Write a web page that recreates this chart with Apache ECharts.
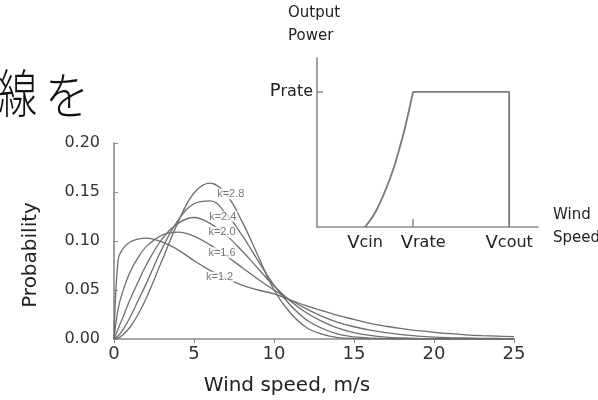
<!DOCTYPE html>
<html>
<head>
<meta charset="utf-8">
<script src="https://cdn.jsdelivr.net/npm/echarts@6/dist/echarts.min.js"></script>
<style>
html,body{margin:0;padding:0;background:#fff;}
#c{width:598px;height:400px;}
</style>
</head>
<body>
<div id="c"></div>
<script>
// ---- main chart data (Weibull-like probability curves) ----
const speeds = [0,0.25,0.5,1,1.5,2,3,4,5,6,7,8,9,10,11,12,13,14,15,16,17,18,19,20,21,22,23,24,25];
const probK12 = [0,0.080,0.091,0.099,0.102,0.103,0.099,0.091,0.080,0.070,0.062,0.055,0.050,0.046,0.040,0.034,0.029,0.024,0.020,0.016,0.013,0.0105,0.0085,0.0068,0.0054,0.0043,0.0035,0.0029,0.0024];
const probK16 = [0,0.030,0.046,0.068,0.083,0.094,0.106,0.109,0.105,0.096,0.085,0.073,0.061,0.050,0.040,0.031,0.023,0.017,0.0125,0.009,0.0065,0.0045,0.003,0.002,0.0014,0.001,0.0007,0.0005,0.0004];
const probK20 = [0,0.010,0.020,0.040,0.058,0.075,0.102,0.118,0.124,0.118,0.106,0.090,0.072,0.054,0.039,0.027,0.018,0.011,0.0065,0.0037,0.002,0.0011,0.0006,0.0003,0.0002,0.0001,0,0,0];
const probK24 = [0,0.003,0.008,0.022,0.039,0.056,0.092,0.121,0.138,0.141,0.128,0.106,0.080,0.055,0.035,0.020,0.011,0.005,0.0022,0.0009,0.0003,0.0001,0,0,0,0,0,0,0];
const probK28 = [0,0.001,0.0035,0.012,0.025,0.041,0.080,0.119,0.149,0.159,0.148,0.120,0.085,0.050,0.027,0.012,0.005,0.0015,0.0004,0.0001,0,0,0,0,0,0,0,0,0];
const shapeLabels = ['k=2.8','k=2.4','k=2.0','k=1.6','k=1.2'];
const labelSpeed = [7.3,6.8,6.75,6.75,6.6];
const labelProb = [0.148,0.125,0.109,0.088,0.063];
const yTicks = [0,0.05,0.10,0.15,0.20];
const xTicks = [0,5,10,15,20,25];

// ---- inset power curve data ----
const riseSpeed = [5,6,7,8,9,9.5,10];
const risePower = [0,0.10,0.25,0.44,0.69,0.84,1];
const flatSpeed = [10,20,20];
const flatPower = [1,1,0];
const vTickValues = [5,10,20];
const vTickNames = ['cin','rate','cout'];
const pTickValue = 1;

const zip = (a,b) => a.map((x,i)=>[x,b[i]]);
const curveColor = '#6e6e6e';
const axisColor = '#8a8a8a';
const font = 'DejaVu Sans';

const curves = [probK12, probK16, probK20, probK24, probK28].map(d => ({
  type:'line', xAxisIndex:0, yAxisIndex:0, data: zip(speeds,d),
  smooth:0.4, showSymbol:false, symbol:'none', z:2,
  lineStyle:{color:curveColor, width:1.3}
}));

const chart = echarts.init(document.getElementById('c'), null, {renderer:'canvas'});
chart.setOption({
  animation:false,
  backgroundColor:'#fff',
  grid:[
    {left:114, right:84, top:143, bottom:61},
    {left:317, right:60, top:58, bottom:173}
  ],
  xAxis:[
    {type:'value', gridIndex:0, min:xTicks[0], max:xTicks[xTicks.length-1], interval:5,
     axisLine:{lineStyle:{color:axisColor, width:1.6}},
     axisTick:{show:true, inside:false, length:4, lineStyle:{color:axisColor}},
     axisLabel:{fontFamily:font, fontSize:18, color:'#333', margin:6},
     splitLine:{show:false}},
    {type:'value', gridIndex:1, min:0, max:23,
     axisLine:{lineStyle:{color:axisColor, width:1.6}},
     axisTick:{show:true, inside:true, length:8, customValues:[vTickValues[1]], lineStyle:{color:axisColor, width:1.5}},
     axisLabel:{customValues:vTickValues, margin:7, color:'#222',
       formatter:function(v){
         const i = vTickValues.indexOf(v);
         if(i<0) return '';
         return (i===1?'{p|}':'') + '{v|V}{s|' + vTickNames[i] + '}';
       },
       rich:{v:{fontFamily:font,fontSize:18,color:'#222'}, s:{fontFamily:font,fontSize:16,color:'#222'}, p:{width:20}}},
     splitLine:{show:false}}
  ],
  yAxis:[
    {type:'value', gridIndex:0, min:yTicks[0], max:yTicks[yTicks.length-1], interval:0.05,
     axisLine:{show:true, lineStyle:{color:axisColor, width:1.6}},
     axisTick:{show:true, inside:true, length:4, lineStyle:{color:axisColor}},
     axisLabel:{fontFamily:font, fontSize:16, color:'#333', margin:14, formatter:v=>v.toFixed(2)},
     splitLine:{show:false}},
    {type:'value', gridIndex:1, min:0, max:1.25,
     axisLine:{show:true, lineStyle:{color:axisColor, width:1.6}},
     axisTick:{show:true, inside:true, length:6, customValues:[pTickValue], lineStyle:{color:axisColor, width:1.5}},
     axisLabel:{customValues:[pTickValue], margin:4, color:'#222',
       formatter:()=> '{v|P}{s|rate}',
       rich:{v:{fontFamily:font,fontSize:18,color:'#222'}, s:{fontFamily:font,fontSize:16,color:'#222'}}},
     splitLine:{show:false}}
  ],
  series: curves.concat([
    {type:'scatter', xAxisIndex:0, yAxisIndex:0, z:5, symbol:'rect', symbolSize:[29,11],
     itemStyle:{color:'#fff'},
     data: labelSpeed.map((s,i)=>({value:[s,labelProb[i]], name:shapeLabels[i]})),
     label:{show:true, position:'inside', formatter:p=>p.name, fontFamily:'Liberation Sans', fontSize:11, color:'#555'}},
    {type:'line', xAxisIndex:1, yAxisIndex:1, data:zip(riseSpeed,risePower), smooth:0.3,
     showSymbol:false, symbol:'none', lineStyle:{color:'#7a7a7a', width:1.8}},
    {type:'line', xAxisIndex:1, yAxisIndex:1, data:zip(flatSpeed,flatPower), smooth:false,
     showSymbol:false, symbol:'none', lineStyle:{color:'#7a7a7a', width:1.8}}
  ]),
  graphic:[
    {type:'text', x:-2, y:93, scaleX:0.75, style:{text:'線', font:'300 52px "Noto Sans CJK JP"', fill:'#111', textVerticalAlign:'middle'}},
    {type:'text', x:45, y:95, scaleX:0.88, style:{text:'を', font:'300 50px "Noto Sans CJK JP"', fill:'#111', textVerticalAlign:'middle'}},
    {type:'text', x:31, y:255, rotation:Math.PI/2, style:{text:'Probability', font:'20px "DejaVu Sans"', fill:'#222', textAlign:'center', textVerticalAlign:'middle'}},
    {type:'text', x:287, y:386, style:{text:'Wind speed, m/s', font:'20px "DejaVu Sans"', fill:'#222', textAlign:'center', textVerticalAlign:'middle'}},
    {type:'text', x:288, y:13, style:{text:'Output', font:'15px "DejaVu Sans"', fill:'#222', textVerticalAlign:'middle'}},
    {type:'text', x:288, y:36, style:{text:'Power', font:'15px "DejaVu Sans"', fill:'#222', textVerticalAlign:'middle'}},
    {type:'text', x:553, y:215, style:{text:'Wind', font:'15px "DejaVu Sans"', fill:'#222', textVerticalAlign:'middle'}},
    {type:'text', x:553, y:238, style:{text:'Speed', font:'15px "DejaVu Sans"', fill:'#222', textVerticalAlign:'middle'}}
  ]
});
</script>
</body>
</html>
